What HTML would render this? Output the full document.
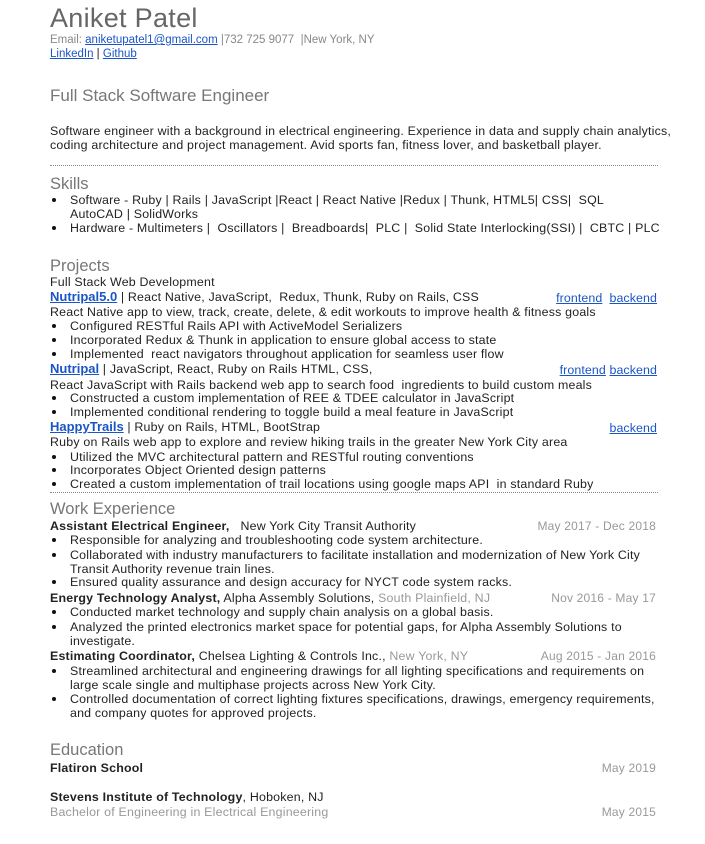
<!DOCTYPE html>
<html><head><meta charset="utf-8"><style>
body{margin:0;background:#fff;width:705px;height:844px;position:relative;overflow:hidden;font-family:"Liberation Sans",sans-serif;color:#222;}
.l{position:absolute;left:50px;white-space:nowrap;font-size:12.4px;line-height:14px;letter-spacing:0.2px}
.b{left:70px}
.b:before{content:"";position:absolute;left:-18px;top:5px;width:4px;height:4px;border-radius:50%;background:#111}
.h{color:#777;font-size:16.5px;line-height:18px;letter-spacing:0}
a{color:#1a55c8;text-decoration:underline}
.pl{font-weight:bold;font-size:13px;letter-spacing:0}
.r{position:absolute;white-space:nowrap;font-size:12px;line-height:14px;color:#999;right:49px;letter-spacing:0.2px}
.rl{position:absolute;white-space:nowrap;font-size:12.4px;line-height:14px;right:48px;letter-spacing:0.1px}
.g{color:#888}
.dot{position:absolute;left:50px;width:608px;border-top:1px dotted #888;height:0}
</style></head><body>
<div class="l" style="top:2px;font-size:27px;line-height:32px;color:#666;letter-spacing:0.3px">Aniket Patel</div>
<div class="l g" style="top:33px;font-size:11.5px;letter-spacing:0">Email: <a>aniketupatel1@gmail.com</a> |732 725 9077 &nbsp;|New York, NY</div>
<div class="l" style="top:47px;font-size:11.5px;letter-spacing:0"><a>LinkedIn</a> | <a>Github</a></div>
<div class="l h" style="top:86px;font-size:17px;line-height:20px">Full Stack Software Engineer</div>
<div class="l" style="top:124px">Software engineer with a background in electrical engineering. Experience in data and supply chain analytics,</div>
<div class="l" style="top:138px">coding architecture and project management. Avid sports fan, fitness lover, and basketball player.</div>
<div class="dot" style="top:165px"></div>
<div class="l h" style="top:175px">Skills</div>
<div class="l b" style="top:193px">Software - Ruby | Rails | JavaScript |React | React Native |Redux | Thunk, HTML5| CSS| &nbsp;SQL</div>
<div class="l" style="top:207px;left:70px">AutoCAD | SolidWorks</div>
<div class="l b" style="top:221px">Hardware - Multimeters | &nbsp;Oscillators | &nbsp;Breadboards| &nbsp;PLC | &nbsp;Solid State Interlocking(SSI) | &nbsp;CBTC | PLC</div>
<div class="l h" style="top:257px">Projects</div>
<div class="l" style="top:275px">Full Stack Web Development</div>
<div class="l" style="top:290px"><a class="pl">Nutripal5.0</a> | React Native, JavaScript, &nbsp;Redux, Thunk, Ruby on Rails, CSS</div>
<div class="rl" style="top:291px"><a>frontend</a> &nbsp;<a>backend</a></div>
<div class="l" style="top:305px">React Native app to view, track, create, delete, &amp; edit workouts to improve health &amp; fitness goals</div>
<div class="l b" style="top:319px">Configured RESTful Rails API with ActiveModel Serializers</div>
<div class="l b" style="top:333px">Incorporated Redux &amp; Thunk in application to ensure global access to state</div>
<div class="l b" style="top:347px">Implemented &nbsp;react navigators throughout application for seamless user flow</div>
<div class="l" style="top:362px"><a class="pl">Nutripal</a> | JavaScript, React, Ruby on Rails HTML, CSS,</div>
<div class="rl" style="top:363px"><a>frontend</a> <a>backend</a></div>
<div class="l" style="top:378px">React JavaScript with Rails backend web app to search food &nbsp;ingredients to build custom meals</div>
<div class="l b" style="top:391px">Constructed a custom implementation of REE &amp; TDEE calculator in JavaScript</div>
<div class="l b" style="top:405px">Implemented conditional rendering to toggle build a meal feature in JavaScript</div>
<div class="l" style="top:420px"><a class="pl">HappyTrails</a> | Ruby on Rails, HTML, BootStrap</div>
<div class="rl" style="top:421px"><a>backend</a></div>
<div class="l" style="top:435px">Ruby on Rails web app to explore and review hiking trails in the greater New York City area</div>
<div class="l b" style="top:450px">Utilized the MVC architectural pattern and RESTful routing conventions</div>
<div class="l b" style="top:463px">Incorporates Object Oriented design patterns</div>
<div class="l b" style="top:477px">Created a custom implementation of trail locations using google maps API &nbsp;in standard Ruby</div>
<div class="dot" style="top:492px"></div>
<div class="l h" style="top:500px">Work Experience</div>
<div class="l" style="top:519px"><b>Assistant Electrical Engineer,</b> &nbsp;&nbsp;New York City Transit Authority</div>
<div class="r" style="top:519px">May 2017 - Dec 2018</div>
<div class="l b" style="top:533px">Responsible for analyzing and troubleshooting code system architecture.</div>
<div class="l b" style="top:548px">Collaborated with industry manufacturers to facilitate installation and modernization of New York City</div>
<div class="l" style="top:562px;left:70px">Transit Authority revenue train lines.</div>
<div class="l b" style="top:575px">Ensured quality assurance and design accuracy for NYCT code system racks.</div>
<div class="l" style="top:591px"><b>Energy Technology Analyst,</b> Alpha Assembly Solutions, <span style="color:#999">South Plainfield, NJ</span></div>
<div class="r" style="top:591px">Nov 2016 - May 17</div>
<div class="l b" style="top:605px">Conducted market technology and supply chain analysis on a global basis.</div>
<div class="l b" style="top:620px">Analyzed the printed electronics market space for potential gaps, for Alpha Assembly Solutions to</div>
<div class="l" style="top:634px;left:70px">investigate.</div>
<div class="l" style="top:649px"><b>Estimating Coordinator,</b> Chelsea Lighting &amp; Controls Inc., <span style="color:#999">New York, NY</span></div>
<div class="r" style="top:649px">Aug 2015 - Jan 2016</div>
<div class="l b" style="top:664px">Streamlined architectural and engineering drawings for all lighting specifications and requirements on</div>
<div class="l" style="top:678px;left:70px">large scale single and multiphase projects across New York City.</div>
<div class="l b" style="top:692px">Controlled documentation of correct lighting fixtures specifications, drawings, emergency requirements,</div>
<div class="l" style="top:706px;left:70px">and company quotes for approved projects.</div>
<div class="l h" style="top:741px">Education</div>
<div class="l" style="top:761px"><b>Flatiron School</b></div>
<div class="r" style="top:761px">May 2019</div>
<div class="l" style="top:790px"><b>Stevens Institute of Technology</b>, Hoboken, NJ</div>
<div class="l" style="top:805px;color:#999">Bachelor of Engineering in Electrical Engineering</div>
<div class="r" style="top:805px">May 2015</div>
</body></html>
